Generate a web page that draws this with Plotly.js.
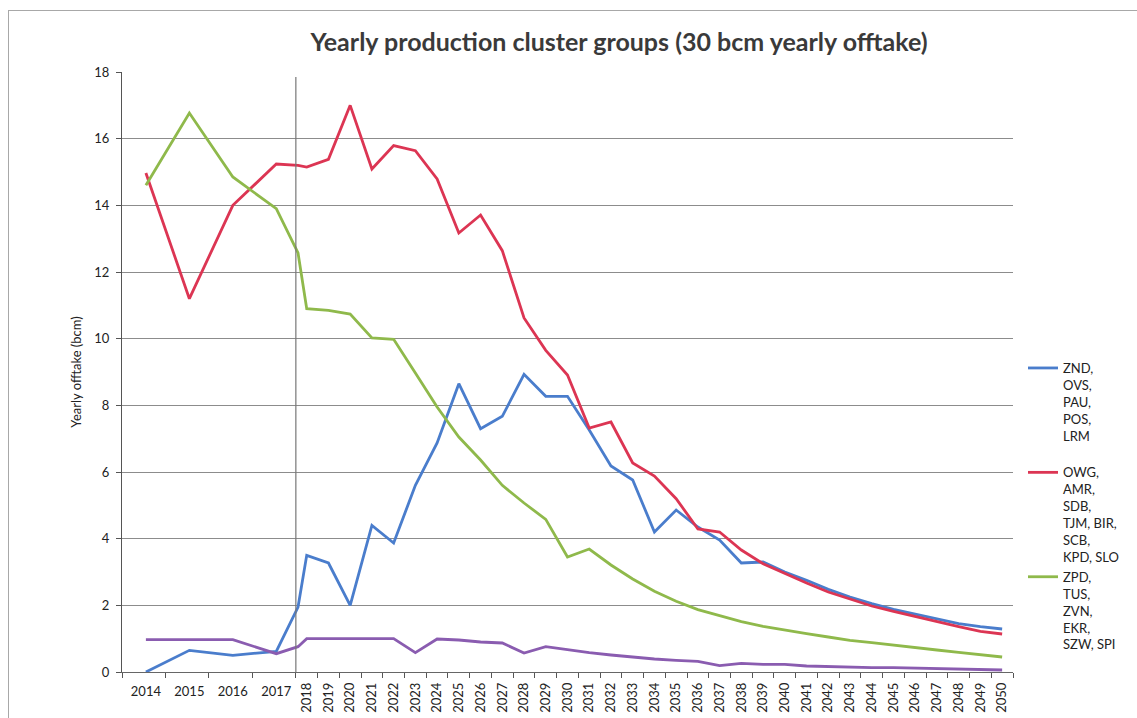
<!DOCTYPE html>
<html><head><meta charset="utf-8">
<script src="https://cdn.plot.ly/plotly-3.0.1.min.js"></script>
<style>
html,body{margin:0;padding:0;background:#fff;overflow:hidden;}
#frame{position:absolute;left:8px;top:10px;width:1140px;height:720px;border-left:1px solid #a8a8a8;border-top:1px solid #a8a8a8;}
#chart{position:absolute;left:0;top:0;width:1137px;height:718px;}
</style>
</head><body><div id="frame"></div><div id="chart"></div>
<script>
// period of each data point; 2017.5 is the transition point at the 2017/2018 boundary
const periods = [2014,2015,2016,2017,2017.5,2018,2019,2020,2021,2022,2023,2024,2025,2026,2027,2028,2029,2030,2031,2032,2033,2034,2035,2036,2037,2038,2039,2040,2041,2042,2043,2044,2045,2046,2047,2048,2049,2050];
const wideYears = [2014,2015,2016,2017];
const narrowYears = [2018,2019,2020,2021,2022,2023,2024,2025,2026,2027,2028,2029,2030,2031,2032,2033,2034,2035,2036,2037,2038,2039,2040,2041,2042,2043,2044,2045,2046,2047,2048,2049,2050];

const nameZND = "ZND,<br>OVS,<br>PAU,<br>POS,<br>LRM<br>&nbsp;";
const nameOWG = "OWG,<br>AMR,<br>SDB,<br>TJM, BIR,<br>SCB,<br>KPD, SLO";
const nameZPD = "ZPD,<br>TUS,<br>ZVN,<br>EKR,<br>SZW, SPI";
const nameOther = "Other";

const valZND = [0.0,0.65,0.5,0.62,1.95,3.5,3.27,2.0,4.4,3.87,5.6,6.87,8.65,7.3,7.67,8.93,8.27,8.27,7.26,6.18,5.76,4.2,4.86,4.35,3.96,3.27,3.3,3.0,2.75,2.48,2.25,2.05,1.88,1.73,1.58,1.45,1.36,1.29];
const valOWG = [14.97,11.2,14.0,15.24,15.2,15.15,15.38,17.0,15.09,15.79,15.64,14.79,13.17,13.71,12.64,10.62,9.65,8.91,7.32,7.5,6.27,5.88,5.2,4.29,4.2,3.66,3.25,2.95,2.67,2.4,2.18,1.98,1.82,1.66,1.51,1.36,1.22,1.14];
const valZPD = [14.6,16.77,14.85,13.9,12.57,10.9,10.85,10.74,10.02,9.98,8.97,7.95,7.05,6.36,5.6,5.07,4.58,3.45,3.69,3.21,2.79,2.42,2.12,1.87,1.69,1.51,1.37,1.25,1.15,1.05,0.95,0.88,0.8,0.73,0.66,0.59,0.52,0.45];
const valOther = [0.97,0.97,0.97,0.55,0.76,1.0,1.0,1.0,1.0,1.0,0.58,0.99,0.96,0.9,0.87,0.57,0.76,0.66,0.58,0.51,0.44,0.39,0.35,0.32,0.19,0.26,0.23,0.23,0.18,0.16,0.15,0.13,0.13,0.12,0.1,0.1,0.09,0.06];

// axis position: 2014-2017 take two slots each, 2018-2050 one slot each
function pos(p){ return p <= 2017.5 ? 1.1 + 2*(p-2014) : 8.5 + (p-2018); }
const xs = periods.map(pos);
const boundaries = [0,2,4,6,8].concat(narrowYears.map(y => pos(y)+0.5));

const FONT = "Lato, 'Open Sans', sans-serif";
const lineW = 2.8;
function tr(name, vals, color, show){
  return {type:'scatter', mode:'lines', x:xs, y:vals, name:name, showlegend:show,
    line:{color:color, width:lineW}, xaxis:'x', yaxis:'y'};
}
const data = [
  tr(nameZND, valZND, '#4a7dcc', true),
  tr(nameOWG, valOWG, '#dc3553', true),
  tr(nameZPD, valZPD, '#8fb94b', true),
  tr(nameOther, valOther, '#8a5cb0', false),
  {type:'scatter', mode:'lines', x:[null], y:[null], xaxis:'x2', yaxis:'y', showlegend:false, hoverinfo:'skip'},
  {type:'scatter', mode:'lines', x:[null], y:[null], xaxis:'x3', yaxis:'y', showlegend:false, hoverinfo:'skip'}
];

const R = [0,41];
const layout = {
  width:1137, height:718,
  margin:{l:122, r:124, t:72, b:46},
  paper_bgcolor:'rgba(0,0,0,0)', plot_bgcolor:'#fff',
  font:{family:FONT, color:'#222', size:13},
  title:{text:'Yearly production cluster groups (30 bcm yearly offtake)', font:{family:FONT, size:25, color:'#3a3a3a', weight:'bold'},
    xref:'container', x:619/1137, xanchor:'center', yref:'container', y:1-42/718, yanchor:'middle'},
  xaxis:{range:R, tickmode:'array', tickvals:boundaries, ticktext:boundaries.map(()=>''), ticks:'outside', ticklen:5, tickcolor:'#555',
    showgrid:false, zeroline:false, showline:true, linecolor:'#666', linewidth:1, automargin:false, fixedrange:true},
  xaxis2:{range:R, overlaying:'x', anchor:'y', side:'bottom', tickmode:'array', tickvals:wideYears.map(pos), ticktext:wideYears.map(String),
    tickangle:0, ticks:'', showgrid:false, zeroline:false, showline:false, automargin:false, ticklabelstandoff:10,
    tickfont:{family:FONT, size:13, color:'#222'}},
  xaxis3:{range:R, overlaying:'x', anchor:'y', side:'bottom', tickmode:'array', tickvals:narrowYears.map(pos), ticktext:narrowYears.map(String),
    tickangle:-90, ticks:'', showgrid:false, zeroline:false, showline:false, automargin:false, ticklabelstandoff:7,
    tickfont:{family:FONT, size:13, color:'#222'}},
  yaxis:{range:[0,18], dtick:2, tick0:0, ticks:'outside', ticklen:5, tickcolor:'#555', showline:true, linecolor:'#555', linewidth:1,
    showgrid:true, gridcolor:'#8c8c8c', gridwidth:1, zeroline:false, automargin:false, ticklabelstandoff:4,
    tickfont:{family:FONT, size:13, color:'#222'},
    title:{text:'Yearly offtake (bcm)', font:{family:FONT, size:13, color:'#222'}, standoff:9}},
  legend:{x:(1023-122)/891, xanchor:'left', y:(672-353)/600, yanchor:'top', valign:'top', itemwidth:30,
    font:{family:FONT, size:13, color:'#222'}, bgcolor:'rgba(0,0,0,0)', tracegroupgap:0},
  shapes:[{type:'line', xref:'x', yref:'y', x0:8, x1:8, y0:0, y1:17.85, line:{color:'#777', width:1.2}}],
  showlegend:true
};
Plotly.newPlot('chart', data, layout, {staticPlot:true, displayModeBar:false});
</script>
</body></html>
